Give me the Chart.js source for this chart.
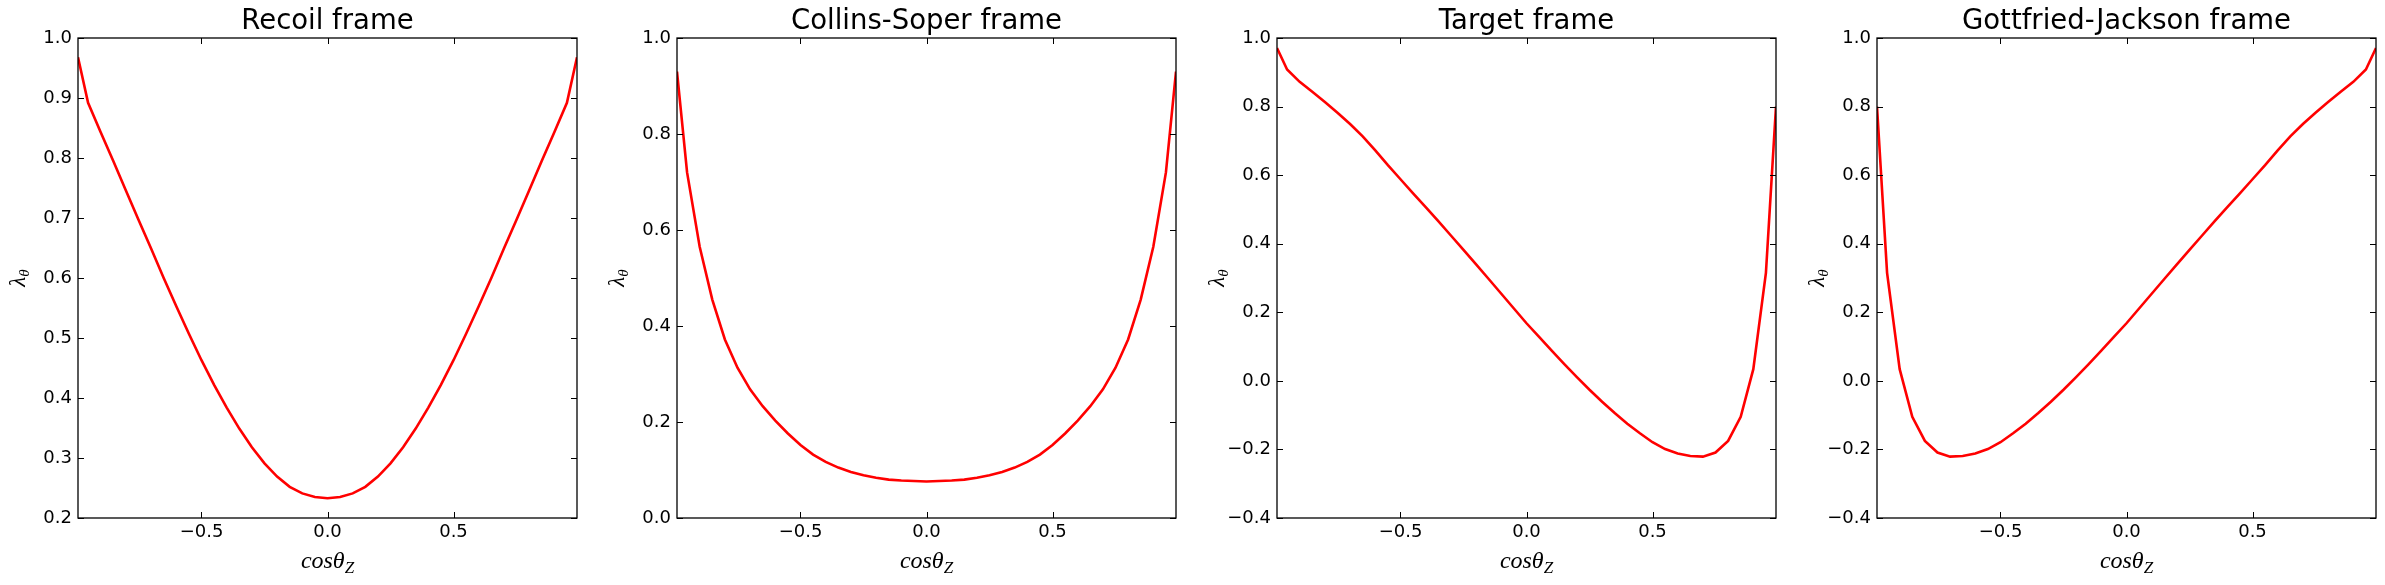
<!DOCTYPE html>
<html>
<head>
<meta charset="utf-8">
<script src="https://cdn.jsdelivr.net/npm/chart.js@4.4.0/dist/chart.umd.min.js"></script>
<style>
  html, body { margin: 0; padding: 0; background: #fff; }
  #wrap { position: relative; width: 2385px; height: 585px; overflow: hidden; }
  .panel { position: absolute; top: 0; }
</style>
</head>
<body>
<div id="wrap"></div>
<script>
'use strict';

// cos(theta_Z) sample points
var cosTheta = [-0.99, -0.95, -0.90, -0.85, -0.80, -0.75, -0.70, -0.65, -0.60, -0.55,
                -0.50, -0.45, -0.40, -0.35, -0.30, -0.25, -0.20, -0.15, -0.10, -0.05,
                 0.00,  0.05,  0.10,  0.15,  0.20,  0.25,  0.30,  0.35,  0.40,  0.45,
                 0.50,  0.55,  0.60,  0.65,  0.70,  0.75,  0.80,  0.85,  0.90,  0.95, 0.99];

var recoilFrame = [0.968, 0.892, 0.843, 0.795, 0.746, 0.697, 0.649, 0.600, 0.553, 0.507,
                   0.463, 0.422, 0.384, 0.349, 0.318, 0.291, 0.269, 0.252, 0.241, 0.235,
                   0.233, 0.235, 0.241, 0.252, 0.269, 0.291, 0.318, 0.349, 0.384, 0.422,
                   0.463, 0.507, 0.553, 0.600, 0.649, 0.697, 0.746, 0.795, 0.843, 0.892, 0.968];

var collinsSoperFrame = [0.930, 0.720, 0.565, 0.455, 0.372, 0.313, 0.268, 0.233, 0.203, 0.176,
                         0.152, 0.132, 0.117, 0.105, 0.096, 0.089, 0.084, 0.080, 0.078, 0.077,
                         0.076, 0.077, 0.078, 0.080, 0.084, 0.089, 0.096, 0.105, 0.117, 0.132,
                         0.152, 0.176, 0.203, 0.233, 0.268, 0.313, 0.372, 0.455, 0.565, 0.720, 0.930];

var targetFrame = [0.971, 0.908, 0.872, 0.843, 0.813, 0.782, 0.749, 0.713, 0.672, 0.629,
                   0.588, 0.547, 0.507, 0.466, 0.424, 0.382, 0.340, 0.297, 0.254, 0.211,
                   0.168, 0.128, 0.088, 0.049, 0.011, -0.026, -0.061, -0.094, -0.125, -0.153,
                   -0.179, -0.199, -0.212, -0.219, -0.221, -0.209, -0.175, -0.105, 0.034, 0.315, 0.800];

var gottfriedJacksonFrame = [0.800, 0.315, 0.034, -0.105, -0.175, -0.209, -0.221, -0.219, -0.212, -0.199,
                             -0.179, -0.153, -0.125, -0.094, -0.061, -0.026, 0.011, 0.049, 0.088, 0.128,
                             0.168, 0.211, 0.254, 0.297, 0.340, 0.382, 0.424, 0.466, 0.507, 0.547,
                             0.588, 0.629, 0.672, 0.713, 0.749, 0.782, 0.813, 0.843, 0.872, 0.908, 0.971];

var frameTitles = ['Recoil frame', 'Collins-Soper frame', 'Target frame', 'Gottfried-Jackson frame'];

// tick labels
var xTicks = [-0.5, 0.0, 0.5];
var recoilTicks = [0.2, 0.3, 0.4, 0.5, 0.6, 0.7, 0.8, 0.9, 1.0];
var collinsSoperTicks = [0.0, 0.2, 0.4, 0.6, 0.8, 1.0];
var targetTicks = [-0.4, -0.2, 0.0, 0.2, 0.4, 0.6, 0.8, 1.0];
var gottfriedJacksonTicks = [-0.4, -0.2, 0.0, 0.2, 0.4, 0.6, 0.8, 1.0];

var panels = [
  { data: recoilFrame, ticks: recoilTicks, left: 78 },
  { data: collinsSoperFrame, ticks: collinsSoperTicks, left: 677 },
  { data: targetFrame, ticks: targetTicks, left: 1277 },
  { data: gottfriedJacksonFrame, ticks: gottfriedJacksonTicks, left: 1877 }
];

var PLOT_W = 499, AXIS_W = 70, RIGHT_PAD = 6;

function fmt(v) {
  return v.toFixed(1).replace('-', '\u2212');
}

// box, inward ticks on all sides, and the math axis labels
var framePlugin = {
  id: 'mplFrame',
  afterDraw: function (chart) {
    var c = chart.ctx, a = chart.chartArea;
    var xs = chart.scales.x, ys = chart.scales.y;
    c.save();
    c.strokeStyle = '#000';
    c.lineWidth = 1;
    c.beginPath();
    xs.ticks.forEach(function (t) {
      var px = Math.round(xs.getPixelForValue(t.value)) + 0.5;
      c.moveTo(px, a.bottom); c.lineTo(px, a.bottom - 6);
      c.moveTo(px, a.top); c.lineTo(px, a.top + 6);
    });
    ys.ticks.forEach(function (t) {
      var py = Math.round(ys.getPixelForValue(t.value)) + 0.5;
      c.moveTo(a.left, py); c.lineTo(a.left + 6, py);
      c.moveTo(a.right, py); c.lineTo(a.right - 6, py);
    });
    c.stroke();
    c.lineWidth = 1.3;
    c.strokeRect(a.left, a.top, a.right - a.left, a.bottom - a.top);

    c.fillStyle = '#000';
    c.textBaseline = 'alphabetic';
    c.textAlign = 'left';

    // x label: cos theta_Z
    var big = 'italic 24px "Liberation Serif"', small = 'italic 17px "Liberation Serif"';
    c.font = big;
    var w1 = c.measureText('cos\u03b8').width;
    c.font = small;
    var w2 = c.measureText('Z').width;
    var x0 = (a.left + a.right) / 2 - (w1 + w2) / 2;
    c.font = big;
    c.fillText('cos\u03b8', x0, 568);
    c.font = small;
    c.fillText('Z', x0 + w1, 573);

    // y label: lambda_theta
    c.translate(a.left - 59, (a.top + a.bottom) / 2);
    c.rotate(-Math.PI / 2);
    c.font = 'italic 23px "Liberation Serif"';
    var l1 = c.measureText('\u03bb').width;
    c.font = 'italic 15px "Liberation Serif"';
    var l2 = c.measureText('\u03b8').width;
    var s = -(l1 + l2) / 2;
    c.font = 'italic 23px "Liberation Serif"';
    c.fillText('\u03bb', s, 6);
    c.font = 'italic 15px "Liberation Serif"';
    c.fillText('\u03b8', s + l1, 10);
    c.restore();
  }
};

var wrap = document.getElementById('wrap');

panels.forEach(function (p, i) {
  var div = document.createElement('div');
  div.className = 'panel';
  var w = AXIS_W + PLOT_W + RIGHT_PAD;
  div.style.left = (p.left - AXIS_W) + 'px';
  div.style.width = w + 'px';
  div.style.height = '585px';
  var canvas = document.createElement('canvas');
  canvas.width = w;
  canvas.height = 585;
  div.appendChild(canvas);
  wrap.appendChild(div);

  var points = cosTheta.map(function (x, k) { return { x: x, y: p.data[k] }; });
  var yTicks = p.ticks;

  new Chart(canvas.getContext('2d'), {
    type: 'line',
    data: {
      datasets: [{
        label: frameTitles[i],
        data: points,
        borderColor: '#ff0000',
        borderWidth: 2.6,
        pointRadius: 0,
        tension: 0,
        fill: false
      }]
    },
    options: {
      responsive: false,
      animation: false,
      layout: { padding: { left: 0, right: RIGHT_PAD, top: 0, bottom: 0 } },
      plugins: {
        legend: { display: false },
        tooltip: { enabled: false },
        title: {
          display: true,
          text: frameTitles[i],
          fullSize: false,
          color: '#000',
          font: { family: 'DejaVu Sans', size: 27.5, weight: 'normal', lineHeight: 1 },
          padding: { top: 8.5, bottom: 2 }
        }
      },
      scales: {
        x: {
          type: 'linear',
          min: cosTheta[0],
          max: cosTheta[cosTheta.length - 1],
          grid: { display: false, drawTicks: false },
          border: { display: false },
          afterBuildTicks: function (scale) {
            scale.ticks = xTicks.map(function (v) { return { value: v }; });
          },
          afterFit: function (scale) { scale.height = 67; },
          ticks: {
            color: '#000',
            padding: 4,
            maxRotation: 0,
            font: { family: 'DejaVu Sans', size: 18 },
            callback: function (v) { return fmt(v); }
          }
        },
        y: {
          type: 'linear',
          min: yTicks[0],
          max: yTicks[yTicks.length - 1],
          grid: { display: false, drawTicks: false },
          border: { display: false },
          afterBuildTicks: function (scale) {
            scale.ticks = yTicks.map(function (v) { return { value: v }; });
          },
          afterFit: function (scale) { scale.width = AXIS_W; },
          ticks: {
            color: '#000',
            padding: 6,
            font: { family: 'DejaVu Sans', size: 18 },
            callback: function (v) { return fmt(v); }
          }
        }
      }
    },
    plugins: [framePlugin]
  });
});
</script>
</body>
</html>
